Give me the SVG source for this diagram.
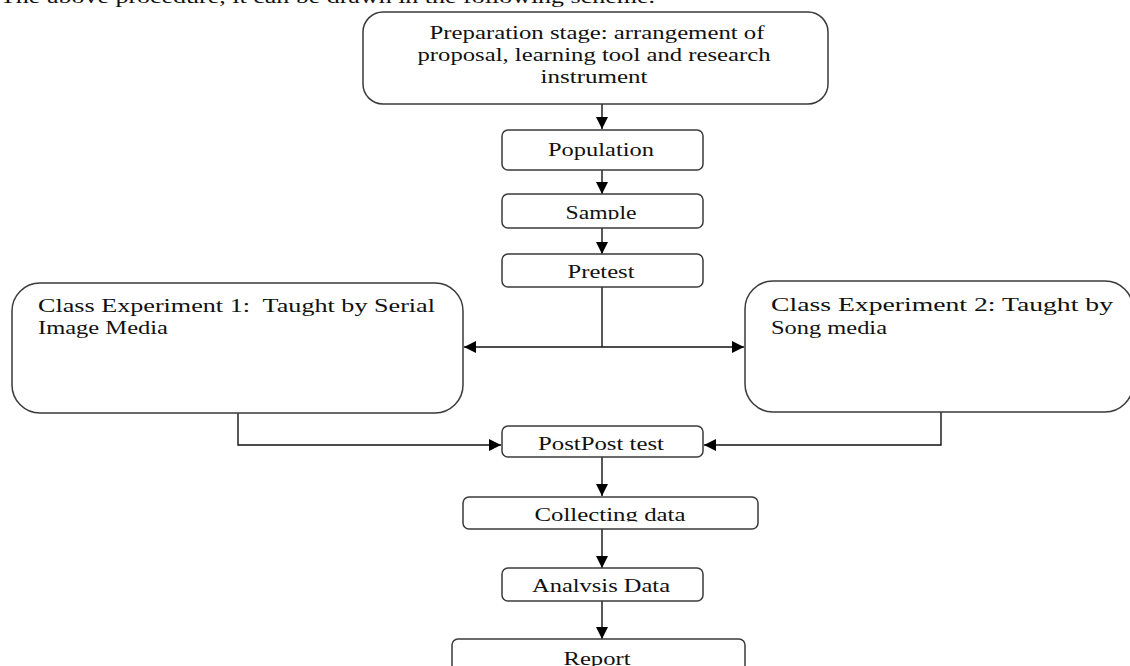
<svg xmlns="http://www.w3.org/2000/svg" width="1130" height="666" viewBox="0 0 1130 666">
<style>
.box{fill:#fff;stroke:#3a3a3a;stroke-width:1.5}
.t{font-family:"Liberation Serif","Times New Roman",serif;font-size:18px;fill:#111}
.c{text-anchor:middle}
.ln{fill:none;stroke:#111;stroke-width:1.4}
.pre{white-space:pre}
</style>
<defs>
<marker id="ah" markerUnits="userSpaceOnUse" markerWidth="13" markerHeight="12" refX="12" refY="6" orient="auto">
<path d="M0,0 L12,6 L0,12 z" fill="#000"/>
</marker>
<clipPath id="clipSample"><rect x="500" y="190" width="210" height="29.5"/></clipPath>
<clipPath id="clipCollect"><rect x="460" y="490" width="300" height="31.5"/></clipPath>
<clipPath id="clipAnalysis"><rect x="500" y="560" width="210" height="33.5"/></clipPath>
</defs>
<rect width="1130" height="666" fill="#fff"/>
<text class="t" x="0" y="3" textLength="655" lengthAdjust="spacingAndGlyphs">The above procedure, it can be drawn in the following scheme.</text>

<g id="connectors">
<line class="ln" x1="602" y1="104" x2="602" y2="129" marker-end="url(#ah)"/>
<line class="ln" x1="602" y1="170" x2="602" y2="194" marker-end="url(#ah)"/>
<line class="ln" x1="602" y1="228" x2="602" y2="254" marker-end="url(#ah)"/>
<line class="ln" x1="602" y1="287" x2="602" y2="347"/>
<line class="ln" x1="602" y1="347" x2="464" y2="347" marker-end="url(#ah)"/>
<line class="ln" x1="602" y1="347" x2="744" y2="347" marker-end="url(#ah)"/>
<polyline class="ln" points="238,413 238,445 501,445" marker-end="url(#ah)"/>
<polyline class="ln" points="941,412 941,445 704,445" marker-end="url(#ah)"/>
<line class="ln" x1="602" y1="457" x2="602" y2="496" marker-end="url(#ah)"/>
<line class="ln" x1="602" y1="529" x2="602" y2="568" marker-end="url(#ah)"/>
<line class="ln" x1="602" y1="601" x2="602" y2="639" marker-end="url(#ah)"/>
</g>

<g id="preparation">
<rect class="box" x="363" y="12" width="465" height="92" rx="20"/>
<text class="t c" x="597" y="39" textLength="335" lengthAdjust="spacingAndGlyphs">Preparation stage: arrangement of</text>
<text class="t c" x="594" y="61" textLength="353" lengthAdjust="spacingAndGlyphs">proposal, learning tool and research</text>
<text class="t c" x="594" y="83" textLength="107" lengthAdjust="spacingAndGlyphs">instrument</text>
</g>

<g id="population">
<rect class="box" x="502" y="130" width="201" height="40" rx="6"/>
<text class="t c" x="601" y="156" textLength="106" lengthAdjust="spacingAndGlyphs">Population</text>
</g>

<g id="sample">
<rect class="box" x="502" y="194" width="201" height="34" rx="6"/>
<text class="t c" x="601" y="219" textLength="71" lengthAdjust="spacingAndGlyphs" clip-path="url(#clipSample)">Sample</text>
</g>

<g id="pretest">
<rect class="box" x="502" y="254" width="201" height="33" rx="6"/>
<text class="t c" x="601" y="278" textLength="67" lengthAdjust="spacingAndGlyphs">Pretest</text>
</g>

<g id="experiment1">
<rect class="box" x="12" y="283" width="451" height="130" rx="28"/>
<text class="t pre" x="38" y="312" textLength="397" lengthAdjust="spacingAndGlyphs">Class Experiment 1:  Taught by Serial</text>
<text class="t" x="38" y="334" textLength="130" lengthAdjust="spacingAndGlyphs">Image Media</text>
</g>

<g id="experiment2">
<rect class="box" x="745" y="281" width="388" height="131" rx="28"/>
<text class="t" x="771" y="311" textLength="342" lengthAdjust="spacingAndGlyphs">Class Experiment 2: Taught by</text>
<text class="t" x="771" y="334" textLength="116" lengthAdjust="spacingAndGlyphs">Song media</text>
</g>

<g id="posttest">
<rect class="box" x="502" y="426" width="201" height="31" rx="6"/>
<text class="t c" x="601" y="450" textLength="126" lengthAdjust="spacingAndGlyphs">PostPost test</text>
</g>

<g id="collecting">
<rect class="box" x="463" y="497" width="295" height="32" rx="6"/>
<text class="t c" x="610" y="521" textLength="151" lengthAdjust="spacingAndGlyphs" clip-path="url(#clipCollect)">Collecting data</text>
</g>

<g id="analysis">
<rect class="box" x="502" y="568" width="201" height="33" rx="6"/>
<text class="t c" x="601" y="592" textLength="138" lengthAdjust="spacingAndGlyphs" clip-path="url(#clipAnalysis)">Analvsis Data</text>
</g>

<g id="report">
<rect class="box" x="452" y="639" width="293" height="40" rx="6"/>
<text class="t c" x="597" y="665" textLength="67" lengthAdjust="spacingAndGlyphs">Report</text>
</g>
</svg>
